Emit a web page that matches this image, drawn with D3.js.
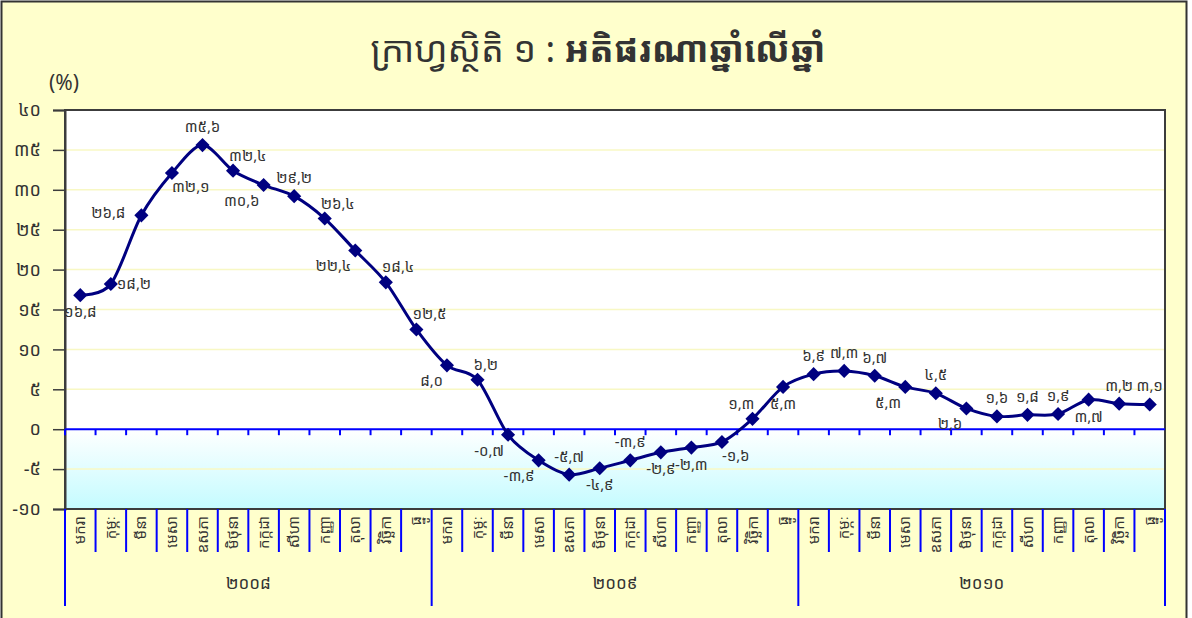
<!DOCTYPE html>
<html>
  <head>
    <meta http-equiv="Content-Type" content="text/html;charset=utf-8">
    <title>Inflation</title>
    <script src="https://d3js.org/d3.v7.min.js"></script>
    <style>
      html, body {
        margin: 0;
        padding: 0;
        background: #fff;
      }
      text {
        font-family: "Khmer OS", "Noto Sans Khmer", "Noto Sans", "DejaVu Sans", sans-serif;
        fill: #333;
      }
    </style>
  </head>
  <body>
    <script type="text/javascript">

var years = ["២០០៨", "២០០៩", "២០១០"];
var months = ["មករា", "កុម្ភៈ", "មីនា", "មេសា", "ឧសភា", "មិថុនា", "កក្កដា", "សីហា", "កញ្ញា", "តុលា", "វិច្ឆិកា", "ធ្នូ"];
var inflation = [16.8, 18.2, 26.8, 32.1, 35.6, 32.4, 30.6, 29.2, 26.4, 22.4, 18.4, 12.5,
                 8.0, 6.2, -0.7, -3.9, -5.7, -4.9, -3.9, -2.9, -2.3, -1.6, 1.3, 5.3,
                 6.9, 7.3, 6.7, 5.3, 4.5, 2.6, 1.6, 1.8, 1.9, 3.7, 3.2, 3.1];
var yTicks = [-10, -5, 0, 5, 10, 15, 20, 25, 30, 35, 40];
// where each value label sits around its marker
var labelSide = ["s", "e", "w", "se", "n", "ne", "sw", "n", "ne", "sw", "ne", "ne",
                 "sw", "ne", "sw", "sw", "n", "s", "n", "s", "s", "se", "nw", "s",
                 "n", "n", "n", "sw", "n", "sw", "n", "n", "n", "s", "n", "n"];

var khDigits = "០១២៣៤៥៦៧៨៩";
function kh(v, dec) {
  var s = dec ? v.toFixed(1).replace(".", ",") : String(v);
  return s.replace(/[0-9]/g, function(c) { return khDigits[+c]; });
}

var W = 1192, H = 618;
var pLeft = 65, pRight = 1165, pTop = 110, pBottom = 509;

var svg = d3.select("body").append("svg")
  .attr("width", W)
  .attr("height", H);

var defs = svg.append("defs");
var grad = defs.append("linearGradient").attr("id", "neg")
  .attr("x1", 0).attr("y1", 0).attr("x2", 0).attr("y2", 1);
grad.append("stop").attr("offset", "0%").attr("stop-color", "#ffffff");
grad.append("stop").attr("offset", "100%").attr("stop-color", "#c4fbff");

// outer background
svg.append("rect")
  .attr("x", 1.5).attr("y", 1.5)
  .attr("width", 1185).attr("height", 640)
  .attr("fill", "#ffffcc")
  .attr("stroke", "#333")
  .attr("stroke-width", 2);

var data = [];
years.forEach(function(yr, yi) {
  months.forEach(function(m, mi) {
    data.push({ key: yr + "-" + m, month: m, year: yr, value: inflation[yi * 12 + mi], side: labelSide[yi * 12 + mi] });
  });
});

var x = d3.scaleBand()
  .domain(data.map(function(d) { return d.key; }))
  .range([pLeft, pRight]);

var y = d3.scaleLinear()
  .domain([-10, 40])
  .range([pBottom, pTop]);

// plot area
svg.append("rect")
  .attr("x", pLeft).attr("y", pTop)
  .attr("width", pRight - pLeft).attr("height", y(0) - pTop)
  .attr("fill", "#ffffff");
svg.append("rect")
  .attr("x", pLeft).attr("y", y(0))
  .attr("width", pRight - pLeft).attr("height", pBottom - y(0))
  .attr("fill", "url(#neg)");

// gridlines
svg.append("g")
  .selectAll("line")
  .data(yTicks.filter(function(t) { return t != 0 && t != 40 && t != -10; }))
  .enter().append("line")
  .attr("x1", pLeft).attr("x2", pRight)
  .attr("y1", function(d) { return y(d); })
  .attr("y2", function(d) { return y(d); })
  .attr("stroke", "#f8f8c4")
  .attr("stroke-width", 1.5);

svg.append("rect")
  .attr("x", pLeft).attr("y", pTop)
  .attr("width", pRight - pLeft).attr("height", pBottom - pTop)
  .attr("fill", "none")
  .attr("stroke", "#3c3c3c")
  .attr("stroke-width", 2);

// y axis
var yAxis = svg.append("g")
  .attr("transform", "translate(" + pLeft + ",0)")
  .call(d3.axisLeft(y).tickValues(yTicks).tickSize(12).tickFormat(function(d) { return kh(d); }));
yAxis.select(".domain").attr("stroke", "#3c3c3c").attr("stroke-width", 2);
yAxis.selectAll(".tick line").attr("stroke", "#3c3c3c").attr("stroke-width", 1.5);
yAxis.selectAll(".tick text")
  .attr("x", -24)
  .style("font-size", "18px")
  .style("fill", "#333");

svg.append("text")
  .attr("x", 64).attr("y", 90)
  .attr("text-anchor", "middle")
  .style("font-size", "21px")
  .text("(%)");

// zero line with ticks
svg.append("line")
  .attr("x1", pLeft).attr("x2", pRight)
  .attr("y1", y(0)).attr("y2", y(0))
  .attr("stroke", "#0000ff")
  .attr("stroke-width", 2);

svg.append("g")
  .selectAll("line")
  .data(data)
  .enter().append("line")
  .attr("x1", function(d) { return x(d.key); })
  .attr("x2", function(d) { return x(d.key); })
  .attr("y1", y(0)).attr("y2", y(0) + 6)
  .attr("stroke", "#0000ff")
  .attr("stroke-width", 2);

// category axis below plot
var cat = svg.append("g");
cat.selectAll("line.m")
  .data(data)
  .enter().append("line")
  .attr("class", "m")
  .attr("x1", function(d) { return x(d.key); })
  .attr("x2", function(d) { return x(d.key); })
  .attr("y1", pBottom)
  .attr("y2", function(d) { return d.month == months[0] ? 606 : 552; })
  .attr("stroke", "#0000ff")
  .attr("stroke-width", 2);
cat.append("line")
  .attr("x1", pRight).attr("x2", pRight)
  .attr("y1", pBottom).attr("y2", 606)
  .attr("stroke", "#0000ff")
  .attr("stroke-width", 2);

cat.selectAll("text.m")
  .data(data)
  .enter().append("text")
  .attr("class", "m")
  .attr("transform", function(d) {
    return "translate(" + (x(d.key) + x.bandwidth() / 2 + 5) + "," + (pBottom + 7) + ") rotate(-90)";
  })
  .attr("text-anchor", "end")
  .style("font-size", "15px")
  .text(function(d) { return d.month; });

cat.selectAll("text.y")
  .data(years)
  .enter().append("text")
  .attr("class", "y")
  .attr("x", function(d) {
    var a = x(d + "-" + months[0]), b = x(d + "-" + months[11]) + x.bandwidth();
    return (a + b) / 2;
  })
  .attr("y", 589)
  .attr("text-anchor", "middle")
  .style("font-size", "17px")
  .text(function(d) { return d; });

// line
var cx = function(d) { return x(d.key) + x.bandwidth() / 2; };
var line = d3.line()
  .x(cx)
  .y(function(d) { return y(d.value); })
  .curve(d3.curveCardinal.tension(0.1));

svg.append("path")
  .attr("d", line(data))
  .attr("fill", "none")
  .attr("stroke", "#000080")
  .attr("stroke-width", 3);

svg.append("g")
  .selectAll("path")
  .data(data)
  .enter().append("path")
  .attr("d", d3.symbol().type(d3.symbolSquare).size(100))
  .attr("transform", function(d) { return "translate(" + cx(d) + "," + y(d.value) + ") rotate(45)"; })
  .attr("fill", "#000080");

// value labels
var place = {
  n:  { a: "middle", dx: 0,   dy: -13 },
  s:  { a: "middle", dx: 0,   dy: 22 },
  e:  { a: "start",  dx: 6,   dy: 5 },
  w:  { a: "end",    dx: -16, dy: 3 },
  ne: { a: "start",  dx: -4,  dy: -10 },
  nw: { a: "end",    dx: 2,   dy: -10 },
  se: { a: "start",  dx: 0,   dy: 19 },
  sw: { a: "end",    dx: -4,  dy: 21 }
};

svg.append("g")
  .selectAll("text")
  .data(data)
  .enter().append("text")
  .attr("x", function(d) { return cx(d) + place[d.side].dx; })
  .attr("y", function(d) { return y(d.value) + place[d.side].dy; })
  .attr("text-anchor", function(d) { return place[d.side].a; })
  .style("font-size", "15px")
  .text(function(d) { return kh(d.value, true); });

// title
var title = svg.append("text")
  .attr("x", 598).attr("y", 62)
  .attr("text-anchor", "middle")
  .style("font-size", "36px");
title.append("tspan").text("ក្រាហ្វស្ថិតិ ១ : ");
title.append("tspan").style("font-weight", "bold").text("អតិផរណាឆ្នាំលើឆ្នាំ");

    </script>
  </body>
</html>
